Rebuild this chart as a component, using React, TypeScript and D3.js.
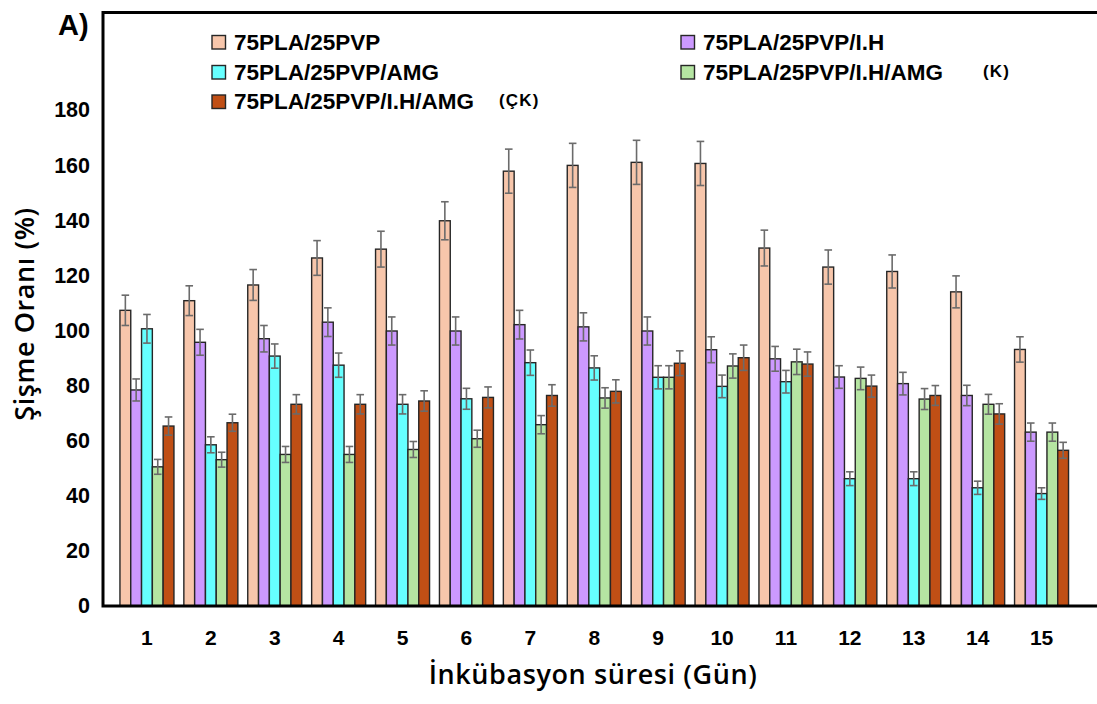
import { useRef, useEffect } from 'react';
import * as d3 from 'd3';

const days = ['1', '2', '3', '4', '5', '6', '7', '8', '9', '10', '11', '12', '13', '14', '15'];

const seriesNames = [
  '75PLA/25PVP',
  '75PLA/25PVP/I.H',
  '75PLA/25PVP/AMG',
  '75PLA/25PVP/I.H/AMG',
  '75PLA/25PVP/I.H/AMG',
];
const seriesColors = ['#f7c6ab', '#cc99ff', '#66ffff', '#b5e5a2', '#c04f15'];

const plaPvp = [107.3, 110.8, 116.5, 126.3, 129.5, 139.8, 157.8, 159.9, 161, 160.6, 129.9, 123, 121.4, 114, 93.1];
const plaPvpErr = [5.5, 5.4, 5.6, 6.3, 6.5, 6.9, 8, 8, 8, 8, 6.5, 6.2, 6, 5.8, 4.6];
const plaPvpIh = [78.4, 95.7, 97, 103, 99.8, 99.8, 102.1, 101.3, 99.8, 93, 89.7, 83.1, 80.7, 76.4, 63.1];
const plaPvpIhErr = [4, 4.7, 4.8, 5.2, 5.1, 5.1, 5.2, 5.1, 5.1, 4.7, 4.5, 4.1, 4.1, 3.7, 3.3];
const plaPvpAmg = [100.6, 58.5, 90.7, 87.4, 73.2, 75.2, 88.3, 86.4, 83, 79.7, 81.4, 46.2, 46.2, 42.9, 40.8];
const plaPvpAmgErr = [5.2, 2.9, 4.4, 4.4, 3.5, 3.8, 4.6, 4.4, 4.2, 4.1, 4.1, 2.5, 2.5, 2.4, 2.1];
const plaPvpIhAmgK = [50.5, 53.1, 55, 55, 56.8, 60.7, 65.8, 75.5, 83, 87.1, 88.6, 82.6, 75.1, 73.2, 63.1];
const plaPvpIhAmgKErr = [2.7, 2.7, 2.9, 2.9, 2.9, 3.1, 3.3, 3.7, 4.2, 4.4, 4.6, 4.1, 3.8, 3.6, 3.3];
const plaPvpIhAmgCk = [65.3, 66.5, 73.2, 73.2, 74.4, 75.7, 76.4, 77.9, 88.1, 90.1, 87.8, 79.8, 76.4, 69.7, 56.5];
const plaPvpIhAmgCkErr = [3.3, 3.1, 3.5, 3.5, 3.7, 3.8, 3.9, 4.2, 4.5, 4.6, 4.4, 4, 3.6, 3.7, 2.9];

const yTicks = [0, 20, 40, 60, 80, 100, 120, 140, 160, 180];

const allValues = [plaPvp, plaPvpIh, plaPvpAmg, plaPvpIhAmgK, plaPvpIhAmgCk];
const allErrors = [plaPvpErr, plaPvpIhErr, plaPvpAmgErr, plaPvpIhAmgKErr, plaPvpIhAmgCkErr];

// legend: column, row, and the little tag after some labels
const legendItems = [
  { s: 0, col: 0, row: 0, tag: '' },
  { s: 2, col: 0, row: 1, tag: '' },
  { s: 4, col: 0, row: 2, tag: '(ÇK)' },
  { s: 1, col: 1, row: 0, tag: '' },
  { s: 3, col: 1, row: 1, tag: '(K)' },
];

export default function App() {
  const svgRef = useRef<SVGSVGElement>(null);

  useEffect(() => {
    const width = 1097;
    const height = 704;
    const left = 103;
    const top = 12.5;
    const bottom = 606;

    const svg = d3.select(svgRef.current).attr('width', width).attr('height', height);
    svg.selectAll('*').remove();

    const font = '"Liberation Sans", Arial, sans-serif';
    const titleFont = '"Open Sans", sans-serif';

    const y = d3.scaleLinear().domain([0, 180]).range([bottom, 110]);

    const x = d3.scaleBand<string>()
      .domain(days)
      .range([115, 1073.5])
      .paddingInner(0.155)
      .paddingOuter(0.0775);

    const xSub = d3.scaleBand<number>()
      .domain(d3.range(seriesNames.length))
      .range([0, x.bandwidth()]);

    const groups = svg.append('g')
      .selectAll('g')
      .data(days)
      .enter()
      .append('g')
      .attr('transform', d => `translate(${x(d)},0)`);

    groups.selectAll('rect')
      .data((d, i) => allValues.map((vals, s) => ({ s, v: vals[i] })))
      .enter()
      .append('rect')
      .attr('x', d => xSub(d.s)!)
      .attr('y', d => y(d.v))
      .attr('width', xSub.bandwidth())
      .attr('height', d => bottom - y(d.v))
      .attr('fill', d => seriesColors[d.s])
      .attr('stroke', '#262626')
      .attr('stroke-width', 1.4);

    // error bars
    const errs = groups.selectAll('g.err')
      .data((d, i) => allValues.map((vals, s) => ({ s, v: vals[i], e: allErrors[s][i] })))
      .enter()
      .append('g')
      .attr('class', 'err')
      .attr('stroke', '#6b6b6b')
      .attr('stroke-width', 1.6);

    const cx = (d: { s: number }) => xSub(d.s)! + xSub.bandwidth() / 2;
    const cap = 3.8;
    errs.append('line')
      .attr('x1', cx).attr('x2', cx)
      .attr('y1', d => y(d.v + d.e)).attr('y2', d => y(d.v - d.e));
    errs.append('line')
      .attr('x1', d => cx(d) - cap).attr('x2', d => cx(d) + cap)
      .attr('y1', d => y(d.v + d.e)).attr('y2', d => y(d.v + d.e));
    errs.append('line')
      .attr('x1', d => cx(d) - cap).attr('x2', d => cx(d) + cap)
      .attr('y1', d => y(d.v - d.e)).attr('y2', d => y(d.v - d.e));

    // axes
    const yAxis = svg.append('g')
      .attr('transform', `translate(${left},0)`)
      .call(d3.axisLeft(y).tickValues(yTicks).tickSize(0).tickPadding(13));
    yAxis.select('.domain').remove();
    yAxis.selectAll('text')
      .attr('font-family', font)
      .attr('font-weight', 'bold')
      .attr('font-size', 21.5)
      .attr('fill', '#000');

    const xAxis = svg.append('g')
      .attr('transform', `translate(0,${bottom})`)
      .call(d3.axisBottom(x).tickSize(0).tickPadding(24));
    xAxis.select('.domain').remove();
    xAxis.selectAll('text')
      .attr('font-family', font)
      .attr('font-weight', 'bold')
      .attr('font-size', 21)
      .attr('fill', '#000');

    // frame
    svg.append('path')
      .attr('d', `M${width},${top}H${left}V${bottom}H${width}`)
      .attr('fill', 'none')
      .attr('stroke', '#000')
      .attr('stroke-width', 3);

    // titles
    svg.append('text')
      .attr('x', 593)
      .attr('y', 684)
      .attr('text-anchor', 'middle')
      .attr('font-family', titleFont)
      .attr('font-weight', 600)
      .attr('font-size', 27)
      .attr('letter-spacing', 0.6)
      .text('İnkübasyon süresi (Gün)');

    svg.append('text')
      .attr('transform', 'translate(34,314) rotate(-90)')
      .attr('text-anchor', 'middle')
      .attr('font-family', titleFont)
      .attr('font-weight', 600)
      .attr('font-size', 27)
      .attr('letter-spacing', 0.6)
      .text('Şişme Oranı (%)');

    svg.append('text')
      .attr('x', 58)
      .attr('y', 35)
      .attr('font-family', font)
      .attr('font-weight', 'bold')
      .attr('font-size', 29)
      .text('A)');

    // legend
    const colX = [212, 681];
    const rowY = [42, 72, 101.5];
    const tagX = [287, 302];
    const legend = svg.append('g');
    legendItems.forEach(item => {
      const g = legend.append('g')
        .attr('transform', `translate(${colX[item.col]},${rowY[item.row]})`);
      g.append('rect')
        .attr('x', 0)
        .attr('y', -6.5)
        .attr('width', 13.5)
        .attr('height', 13.5)
        .attr('fill', seriesColors[item.s])
        .attr('stroke', '#262626')
        .attr('stroke-width', 1.4);
      g.append('text')
        .attr('x', 22)
        .attr('y', 7.5)
        .attr('font-family', font)
        .attr('font-weight', 'bold')
        .attr('font-size', 22.5)
        .text(seriesNames[item.s]);
      if (item.tag) {
        g.append('text')
          .attr('x', tagX[item.col])
          .attr('y', 4.5)
          .attr('font-family', font)
          .attr('font-weight', 'bold')
          .attr('font-size', 17)
          .attr('letter-spacing', 1.2)
          .text(item.tag);
      }
    });
  }, []);

  return (
    <div style={{ position: 'absolute', left: 0, top: 0 }}>
      <svg ref={svgRef}></svg>
    </div>
  );
}
